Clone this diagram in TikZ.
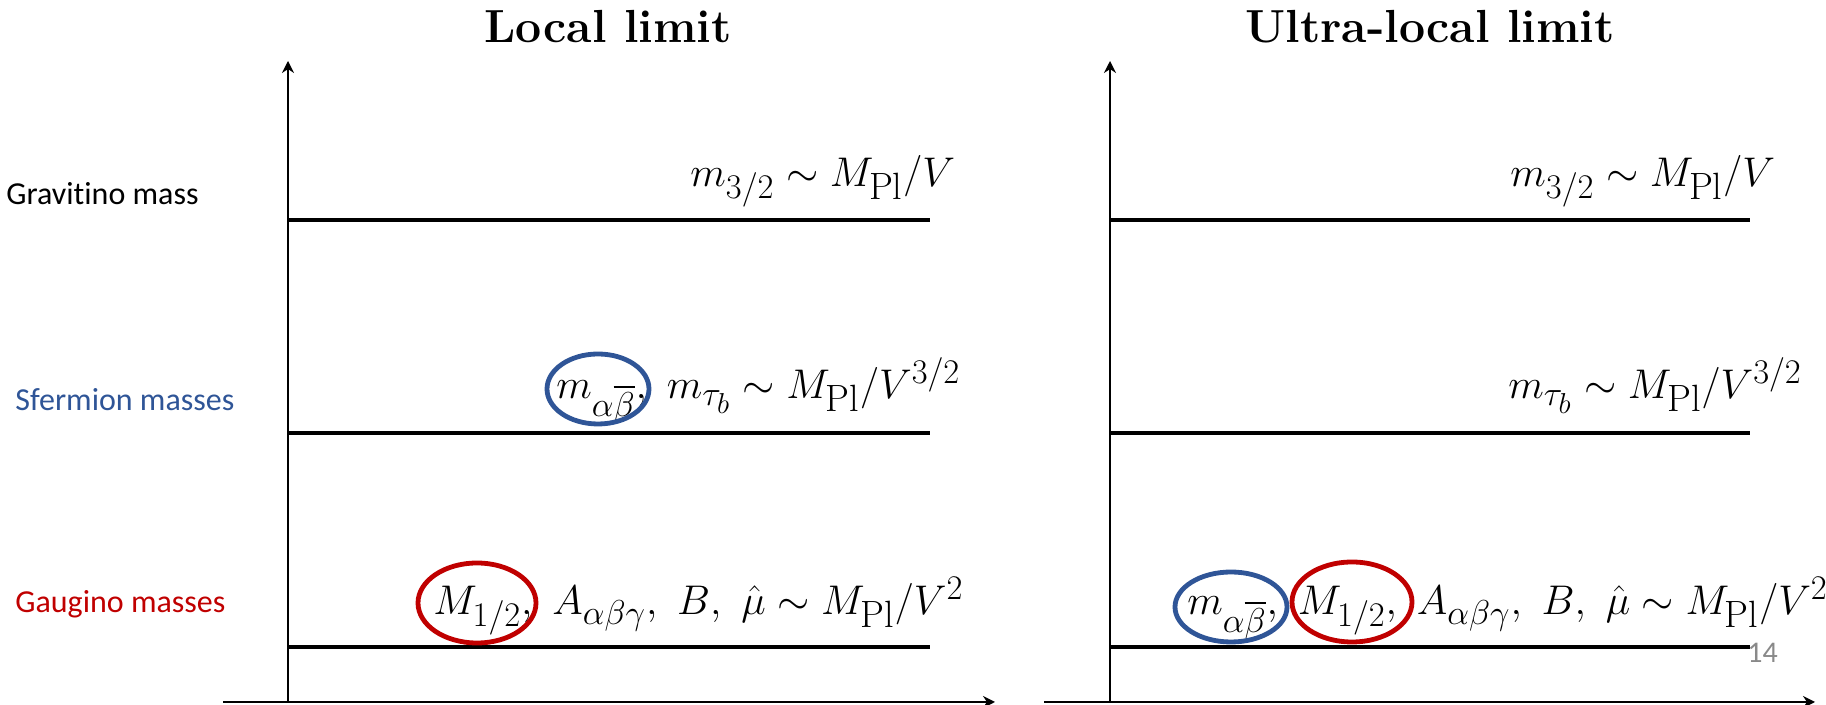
\documentclass[tikz,border=0pt]{standalone}
\usepackage{amsmath,amssymb}
\usepackage{fontspec}
\newfontfamily\calibri[Ligatures=NoCommon]{Carlito}
\usetikzlibrary{arrows.meta}
\DeclareMathSizes{21.5}{21.5}{19}{15}
\definecolor{sfermion}{RGB}{47,85,151}
\definecolor{gaugino}{RGB}{192,0,0}
\definecolor{pagegray}{RGB}{137,137,137}
\tikzset{
  scaleaxis/.style={-{Stealth[length=6pt,width=6pt]},line width=1pt},
  rung/.style={line width=1.7pt},
  heading/.style={font=\fontsize{23.2}{27}\selectfont\bfseries,anchor=base,inner sep=0pt},
  rowlabel/.style={font=\calibri\fontsize{16}{19}\selectfont,anchor=base west,inner sep=0pt},
  formula/.style={font=\fontsize{21.5}{26}\selectfont,anchor=base west,inner sep=0pt},
  circled/.style={line width=2.4pt},
}
\begin{document}
\begin{tikzpicture}[x=0.5pt,y=0.5pt]
\useasboundingbox (0,0) rectangle (1826,705);

% left panel: local limit
\node[heading] (loc) at (608,662) {Local limit};
\draw[scaleaxis] (288,3) -- (288,644);
\draw[scaleaxis] (223,3) -- (995,3);
\draw[rung] (288,485) -- (930,485);
\draw[rung] (288,272) -- (930,272);
\draw[rung] (288,58) -- (930,58);

\node[rowlabel] (grav) at (6,500) {Gravitino mass};
\node[rowlabel,text=sfermion] (sferm) at (15,294) {Sfermion masses};
\node[rowlabel,text=gaugino] (gaug) at (15,92) {Gaugino masses};

\node[formula] (Lgrav) at (690,518) {$m_{3/2}\sim M_{\mathrm{Pl}}/V$};
\node[formula] (Lsferm) at (556,306) {$m_{\alpha\overline{\beta}},\ m_{\tau_b}\sim M_{\mathrm{Pl}}/V^{3/2}$};
\node[formula] (Lgaug) at (433,90) {$M_{1/2},\ A_{\alpha\beta\gamma},\ B,\ \hat{\mu}\sim M_{\mathrm{Pl}}/V^2$};
\draw[circled,draw=sfermion] (598,316) ellipse [x radius=51, y radius=35];
\draw[circled,draw=gaugino] (477,102) ellipse [x radius=59, y radius=40];

% right panel: ultra-local limit
\node[heading] (uloc) at (1430,662) {Ultra-local limit};
\draw[scaleaxis] (1110,3) -- (1110,644);
\draw[scaleaxis] (1044,3) -- (1815,3);
\draw[rung] (1110,485) -- (1750,485);
\draw[rung] (1110,272) -- (1750,272);
\draw[rung] (1110,58) -- (1750,58);

\node[formula] (Rgrav) at (1510,518) {$m_{3/2}\sim M_{\mathrm{Pl}}/V$};
\node[formula] (Rsferm) at (1508,306) {$m_{\tau_b}\sim M_{\mathrm{Pl}}/V^{3/2}$};
\node[formula] (Rgaug) at (1187,90) {$m_{\alpha\overline{\beta}},\ M_{1/2},\ A_{\alpha\beta\gamma},\ B,\ \hat{\mu}\sim M_{\mathrm{Pl}}/V^2$};
\draw[circled,draw=sfermion] (1231,98) ellipse [x radius=56, y radius=35];
\draw[circled,draw=gaugino] (1352,103) ellipse [x radius=60, y radius=40];

\node[rowlabel,text=pagegray,font=\calibri\fontsize{15}{18}\selectfont] (page) at (1747,42) {14};
\end{tikzpicture}
\end{document}
